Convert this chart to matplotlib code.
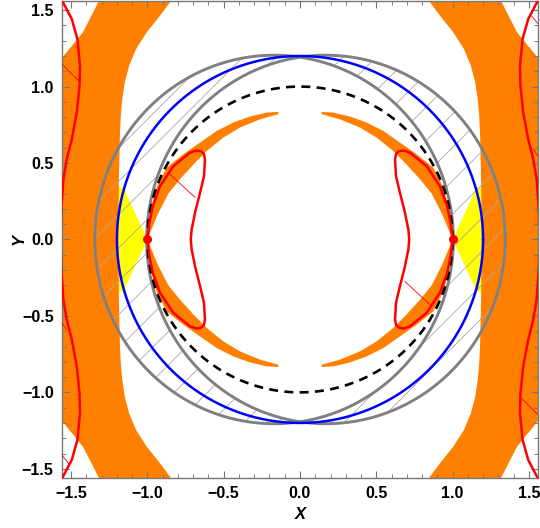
import numpy as np
import matplotlib.pyplot as plt
from matplotlib.patches import Polygon
from matplotlib.ticker import MultipleLocator

plt.rcParams['font.family'] = ['Liberation Sans', 'DejaVu Sans']
plt.rcParams['hatch.linewidth'] = 0.6

# circles / ellipses: (center x, semi-axis x, semi-axis y)
dashed_circle = (0.0, 1.0, 1.0)
blue_circle = (0.0, 1.2, 1.2)
gray_ellipse = (0.17, 1.175, 1.205)
red_dots_x = [-1.0, 1.0]
red_dots_y = [0.0, 0.0]

# outer orange band, right side, upper half (inner edge from top to y=0)
band_inner_x = [0.78, 0.836, 0.92, 1.004, 1.075, 1.12, 1.148, 1.165, 1.175, 1.18, 1.187, 1.192]
band_inner_y = [1.65, 1.573, 1.46, 1.356, 1.245, 1.136, 1.03, 0.917, 0.80, 0.70, 0.393, 0.0]
band_outer_x = [1.27, 1.311, 1.422, 1.566, 1.75]
band_outer_y = [1.65, 1.573, 1.356, 1.180, 0.93]

# inner orange crescent, right side, upper half
cres_outer_x = [1.0, 0.985, 0.94, 0.874, 0.765, 0.655, 0.546, 0.437, 0.328, 0.218, 0.142]
cres_outer_y = [0.0, 0.17, 0.34, 0.47, 0.557, 0.634, 0.710, 0.765, 0.804, 0.830, 0.834]
cres_inner_x = [0.142, 0.262, 0.393, 0.503, 0.611, 0.699, 0.79, 0.863, 0.93, 1.0]
cres_inner_y = [0.819, 0.786, 0.732, 0.666, 0.579, 0.49, 0.39, 0.30, 0.17, 0.0]

# yellow wedge, right side
yellow_x = [1.0, 1.158, 1.25, 1.25, 1.158]
yellow_y = [0.0, 0.34, 0.34, -0.34, -0.34]

# red bean, right side, upper half (outer side from the dot, then inner side)
bean_x = [1.0, 0.987, 0.965, 0.917, 0.830, 0.721, 0.680, 0.650, 0.630, 0.623, 0.629, 0.655, 0.688, 0.710, 0.716]
bean_y = [0.0, 0.109, 0.218, 0.349, 0.480, 0.568, 0.582, 0.578, 0.560, 0.524, 0.415, 0.306, 0.175, 0.066, 0.0]

# red outer curve, left side, upper half
edge_x = [-1.565, -1.496, -1.459, -1.442, -1.445, -1.463, -1.496, -1.529, -1.551, -1.565, -1.57]
edge_y = [1.573, 1.442, 1.311, 1.136, 1.005, 0.830, 0.655, 0.524, 0.393, 0.2, 0.0]

# thin red segments (x0, y0, x1, y1)
thin_red = [(-1.56, 1.147, -1.442, 1.029), (-1.562, -1.409, -1.518, -1.463),
            (-1.56, -0.545, -1.53, -0.59), (-0.852, 0.426, -0.688, 0.275)]

fig = plt.figure(figsize=(5.4, 5.28), dpi=100)
ax = fig.add_axes([0.1148, 0.0947, 0.8815, 0.9035])
lim = 1.56
ax.set_xlim(-lim, lim)
ax.set_ylim(-lim, lim)

orange = '#ff8000'


def full_shape(xs, ys):
    # mirror an upper-half outline to the lower half
    xs = list(xs)
    ys = list(ys)
    return np.column_stack([xs + xs[::-1], ys + [-v for v in ys[::-1]]])


# outer bands
for s in (1, -1):
    ix = list(np.array(band_inner_x) * s)
    ox = list(np.array(band_outer_x) * s)
    in_x = ix + ix[::-1]
    in_y = band_inner_y + [-v for v in band_inner_y[::-1]]
    out_x = ox + ox[::-1]
    out_y = [-v for v in band_outer_y] + band_outer_y[::-1]
    ax.add_patch(Polygon(np.column_stack([in_x + out_x, in_y + out_y]),
                         closed=True, fc=orange, ec='none', zorder=1))

# yellow wedges
for s in (1, -1):
    ax.add_patch(Polygon(np.column_stack([np.array(yellow_x) * s, yellow_y]),
                         closed=True, fc='#ffff00', ec='none', zorder=0.9))

# inner crescents (four pieces)
for sx in (1, -1):
    for sy in (1, -1):
        px = np.array(cres_outer_x + cres_inner_x) * sx
        py = np.array(cres_outer_y + cres_inner_y) * sy
        ax.add_patch(Polygon(np.column_stack([px, py]), closed=True,
                             fc=orange, ec='none', zorder=1))

# hatched lunes between the two gray ellipses
c, a, b = gray_ellipse
s0 = np.arccos(c / a)
t0 = np.arccos(-c / a)
s = np.linspace(s0, 2 * np.pi - s0, 200)
t = np.linspace(2 * np.pi - t0, t0, 200)
lx = np.concatenate([-c + a * np.cos(s), c + a * np.cos(t)])
ly = np.concatenate([b * np.sin(s), b * np.sin(t)])
for sg in (1, -1):
    ax.add_patch(Polygon(np.column_stack([lx * sg, ly]), closed=True,
                         fc='none', ec='#a8a8a8', lw=0, hatch='/', zorder=2))

th = np.linspace(0, 2 * np.pi, 400)
for sg in (1, -1):
    ax.plot(sg * c + a * np.cos(th), b * np.sin(th), color='#808080', lw=2.1, zorder=3)
ax.plot(dashed_circle[1] * np.cos(th), dashed_circle[2] * np.sin(th), color='black',
        lw=1.9, dashes=(3.4, 2.4), zorder=3)
ax.plot(blue_circle[1] * np.cos(th), blue_circle[2] * np.sin(th), color='#0000ff',
        lw=1.8, zorder=4)

# red curves
for sx in (1, -1):
    bean = full_shape(np.array(bean_x) * sx, bean_y)
    ax.plot(bean[:, 0], bean[:, 1], color='#ff0000', lw=1.8, zorder=5)
    ex = list(np.array(edge_x) * sx)
    ax.plot(ex + ex[::-1], edge_y + [-v for v in edge_y[::-1]],
            color='#ff0000', lw=1.8, zorder=5)
for x0, y0, x1, y1 in thin_red:
    for sg in (1, -1):
        ax.plot([sg * x0, sg * x1], [sg * y0, sg * y1], color='#ff0000', lw=0.6, zorder=5)
ax.plot(red_dots_x, red_dots_y, 'o', color='#ff0000', ms=5.5, zorder=6)

ax.xaxis.set_major_locator(MultipleLocator(0.5))
ax.yaxis.set_major_locator(MultipleLocator(0.5))
ax.xaxis.set_minor_locator(MultipleLocator(0.1))
ax.yaxis.set_minor_locator(MultipleLocator(0.1))
ax.tick_params(which='both', direction='in', top=True, right=True, color='#777777')
ax.tick_params(which='major', length=5, width=0.8, labelsize=11.5, pad=6)
ax.tick_params(which='minor', length=3, width=0.7)
for lab in ax.get_xticklabels() + ax.get_yticklabels():
    lab.set_fontweight('bold')
for sp in ax.spines.values():
    sp.set_color('#777777')
    sp.set_linewidth(1.0)
ax.set_xlabel('X', fontsize=12, fontweight='bold', style='italic', labelpad=4)
ax.set_ylabel('Y', fontsize=12, fontweight='bold', style='italic')
ax.yaxis.set_label_coords(-0.074, 0.5)

fig.savefig('out.png', dpi=100)
